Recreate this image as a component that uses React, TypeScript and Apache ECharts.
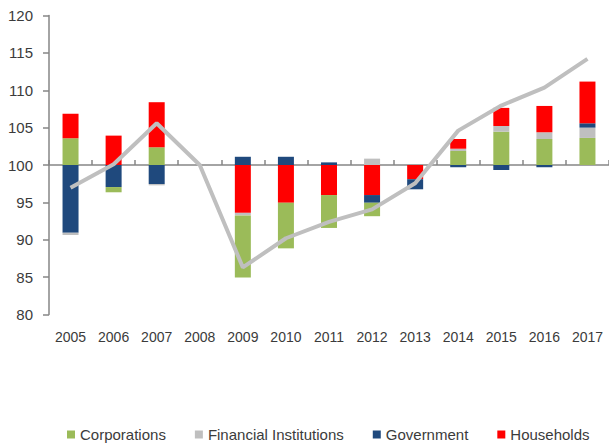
import React, { useEffect, useRef } from "react";
import * as echarts from "echarts";

const years = ["2005", "2006", "2007", "2008", "2009", "2010", "2011", "2012", "2013", "2014", "2015", "2016", "2017"];
// contributions (index points relative to base 100)
const corporations = [3.57, -0.7, 2.37, 0, -8.3, -6.1, -4.4, -1.8, 0, 1.87, 4.46, 3.48, 3.62];
const financialInstitutions = [-0.3, 0, -0.17, 0, -0.34, 0, 0, 0.85, 0, 0.31, 0.76, 0.9, 1.38];
const government = [-9.07, -2.95, -2.55, 0, 1.1, 1.1, 0.35, -1.03, -1.35, -0.3, -0.67, -0.3, 0.58];
const households = [3.3, 3.93, 6.03, 0, -6.4, -5.05, -4.02, -4.02, -1.9, 1.3, 2.42, 3.52, 5.58];
const totalIndex = [96.96, 100.1, 105.58, 100, 86.3, 90.2, 92.4, 94.06, 97.55, 104.6, 107.95, 110.36, 114.2];
const baseValue = 100;

const seriesDefs = [
  { name: "Corporations", data: corporations, color: "#9BBB59" },
  { name: "Financial Institutions", data: financialInstitutions, color: "#BFBFBF" },
  { name: "Government", data: government, color: "#1F497D" },
  { name: "Households", data: households, color: "#FF0000" },
];

const FONT = "Liberation Sans";
const TEXT = "#3b3b3b";
const AXIS = "#868686";

export default function App() {
  const ref = useRef<HTMLDivElement>(null);
  useEffect(() => {
    if (!ref.current) return;
    const chart = echarts.init(ref.current, undefined, { renderer: "svg" });
    const pos = seriesDefs.map((s) => ({
      name: s.name,
      type: "bar",
      stack: "total",
      barWidth: 16,
      itemStyle: { color: s.color },
      data: s.data.map((v) => (v > 0 ? v : null)),
    }));
    const neg = [...seriesDefs].reverse().map((s) => ({
      name: s.name,
      type: "bar",
      stack: "total",
      barWidth: 16,
      itemStyle: { color: s.color },
      data: s.data.map((v) => (v < 0 ? v : null)),
    }));
    chart.setOption({
      animation: false,
      textStyle: { fontFamily: FONT },
      grid: { left: 49, right: -1, top: 15.5, bottom: 131.5, containLabel: false },
      legend: {
        data: seriesDefs.map((s) => s.name),
        left: 62,
        top: 422,
        itemWidth: 8,
        itemHeight: 8,
        itemGap: 29,
        icon: "rect",
        textStyle: { fontFamily: FONT, fontSize: 15, color: TEXT },
      },
      xAxis: [
        {
          type: "category",
          data: years,
          position: "bottom",
          axisLine: { show: false, onZero: false },
          axisTick: { show: false },
          axisLabel: { fontFamily: FONT, fontSize: 14, color: TEXT, margin: 15 },
        },
        {
          type: "category",
          data: years,
          axisLine: { show: true, onZero: true, lineStyle: { color: AXIS, width: 1.5 } },
          axisTick: { show: true, length: 5, lineStyle: { color: AXIS, width: 1.5 } },
          axisLabel: { show: false },
        },
      ],
      yAxis: {
        type: "value",
        min: -20,
        max: 20,
        interval: 5,
        axisLine: { show: true, lineStyle: { color: AXIS, width: 1.5 } },
        axisTick: { show: true, length: 6, lineStyle: { color: AXIS, width: 1.5 } },
        splitLine: { show: false },
        axisLabel: {
          fontFamily: FONT,
          fontSize: 15,
          color: TEXT,
          margin: 16,
          formatter: (v: number) => String(v + baseValue),
        },
      },
      series: [
        ...pos,
        ...neg,
        {
          name: "Total",
          type: "line",
          data: totalIndex.map((v) => +(v - baseValue).toFixed(2)),
          symbol: "none",
          lineStyle: { color: "#BFBFBF", width: 4 },
          itemStyle: { color: "#BFBFBF" },
          z: 5,
        },
      ],
    });
    return () => chart.dispose();
  }, []);
  return <div ref={ref} style={{ width: 609, height: 446, position: "absolute", left: 0, top: 0 }} />;
}
